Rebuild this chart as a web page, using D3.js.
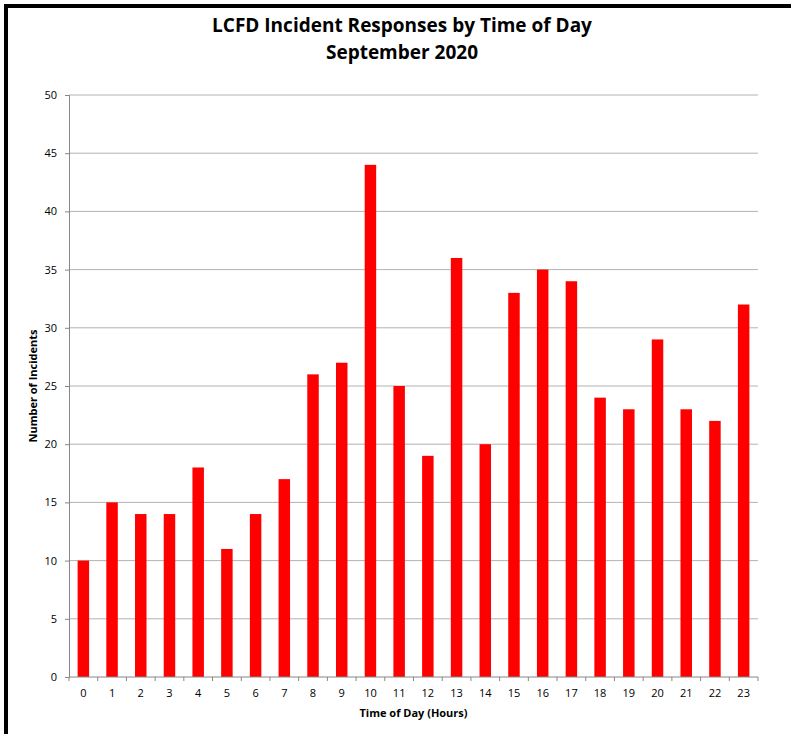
<!DOCTYPE html>
<html>
<head>
<meta charset="utf-8">
<script src="https://cdn.jsdelivr.net/npm/d3@7"></script>
<style>
  body { margin: 0; background: #fff; }
  svg { display: block; }
</style>
</head>
<body>
<div id="chart"></div>
<script>
(function (d3) {
    "use strict";

    /***** Données *****/
    const hours = d3.range(0, 24).map(String);
    const incidents = [10, 15, 14, 14, 18, 11, 14, 17, 26, 27, 44, 25, 19, 36, 20, 33, 35, 34, 24, 23, 29, 23, 22, 32];
    const y_ticks = [0, 5, 10, 15, 20, 25, 30, 35, 40, 45, 50];

    /***** Configuration *****/
    const width = 791, height = 734;
    const margin = { top: 95, right: 33, bottom: 57, left: 69 };
    const plot_w = width - margin.left - margin.right;
    const plot_h = height - margin.top - margin.bottom;
    const font = "'Open Sans', 'Noto Sans', sans-serif";

    var svg = d3.select("#chart").append("svg")
        .attr("width", width)
        .attr("height", height);

    // cadre noir (haut et gauche)
    svg.append("rect").attr("x", 4).attr("y", 4).attr("width", width).attr("height", 4).attr("fill", "#000");
    svg.append("rect").attr("x", 4).attr("y", 4).attr("width", 4).attr("height", height).attr("fill", "#000");

    /***** Échelles *****/
    var x = d3.scaleBand().domain(hours).range([0, plot_w]).paddingInner(0.6).paddingOuter(0.3);
    var x_cat = d3.scaleBand().domain(hours).range([0, plot_w]);
    var y = d3.scaleLinear().domain([0, 50]).range([plot_h, 0]);

    var g = svg.append("g")
        .attr("transform", "translate(" + margin.left + "," + margin.top + ")");

    // grille
    g.append("g").selectAll("line")
        .data(y_ticks.filter(d => d > 0))
        .join("line")
        .attr("x1", 0).attr("x2", plot_w)
        .attr("y1", d => y(d)).attr("y2", d => y(d))
        .attr("stroke", "#b3b3b3").attr("stroke-width", 1);

    // barres
    g.append("g").selectAll("rect")
        .data(incidents)
        .join("rect")
        .attr("x", (d, i) => x(hours[i]))
        .attr("width", x.bandwidth())
        .attr("y", d => y(d))
        .attr("height", d => plot_h - y(d))
        .attr("fill", "#ff0000");

    // axe Y
    var yAxis = d3.axisLeft(y).tickValues(y_ticks).tickSize(4).tickPadding(8);
    var gy = g.append("g").call(yAxis);
    gy.select(".domain").attr("stroke", "#868686");
    gy.selectAll(".tick line").attr("stroke", "#868686");
    gy.selectAll("text").attr("font-family", font).attr("font-size", 11).attr("fill", "#000");

    // axe X
    var gx = g.append("g").attr("transform", "translate(0," + plot_h + ")");
    gx.append("line").attr("x1", 0).attr("x2", plot_w).attr("stroke", "#868686");
    gx.selectAll(".xt")
        .data(hours.concat(["end"]))
        .join("line")
        .attr("class", "xt")
        .attr("x1", (d, i) => i * x_cat.step()).attr("x2", (d, i) => i * x_cat.step())
        .attr("y1", 0).attr("y2", 4)
        .attr("stroke", "#868686");
    gx.selectAll("text")
        .data(hours)
        .join("text")
        .attr("x", d => x_cat(d) + x_cat.bandwidth() / 2)
        .attr("y", 20)
        .attr("text-anchor", "middle")
        .attr("font-family", font).attr("font-size", 11)
        .text(d => d);

    /***** Titres *****/
    svg.append("text")
        .attr("x", 402).attr("y", 32)
        .attr("text-anchor", "middle")
        .attr("font-family", font).attr("font-size", 19).attr("font-weight", "bold")
        .text("LCFD Incident Responses by Time of Day");
    svg.append("text")
        .attr("x", 402).attr("y", 59)
        .attr("text-anchor", "middle")
        .attr("font-family", font).attr("font-size", 19).attr("font-weight", "bold")
        .text("September 2020");

    svg.append("text")
        .attr("x", margin.left + plot_w / 2).attr("y", 717)
        .attr("text-anchor", "middle")
        .attr("font-family", font).attr("font-size", 11).attr("font-weight", "bold")
        .text("Time of Day (Hours)");

    svg.append("text")
        .attr("transform", "translate(37," + (margin.top + plot_h / 2) + ") rotate(-90)")
        .attr("text-anchor", "middle")
        .attr("font-family", font).attr("font-size", 11).attr("font-weight", "bold")
        .text("Number of Incidents");

})(d3);
</script>
</body>
</html>
